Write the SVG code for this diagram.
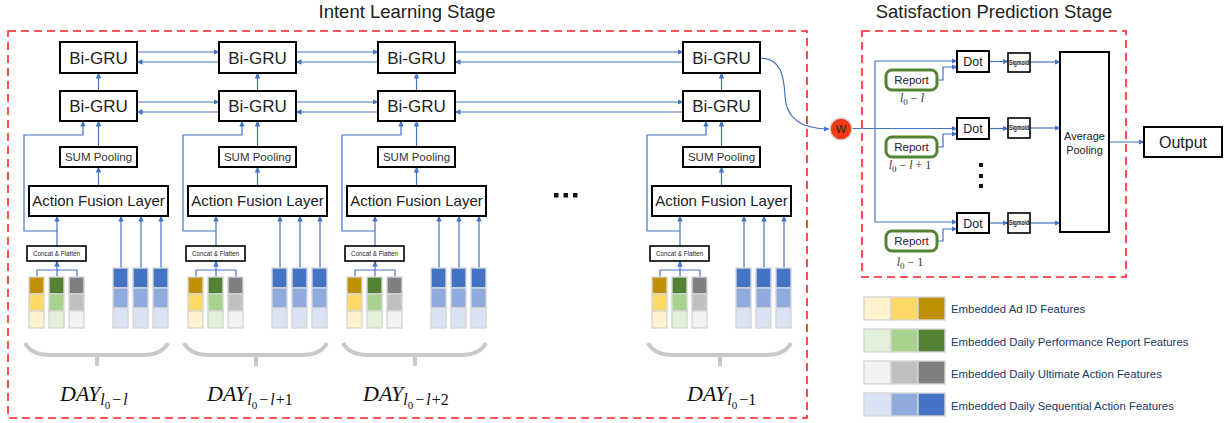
<svg xmlns="http://www.w3.org/2000/svg" xmlns:xlink="http://www.w3.org/1999/xlink" width="1228" height="423" viewBox="0 0 1228 423">
<style>
text{font-family:"Liberation Sans",Arial,sans-serif;fill:#222}
.n rect{fill:#fff;stroke:#000;stroke-width:2}
.n.thin rect{stroke-width:1.6}
.c{fill:none;stroke:#4472C4;stroke-width:1.2}
.ca{fill:none;stroke:#4472C4;stroke-width:1.2;marker-end:url(#ah)}
.mid{text-anchor:middle}
.t17{font-size:17px}
.t15{font-size:15px}
.t11{font-size:11.5px;fill:#333}
.t6{font-size:6.3px}
.sw rect{stroke:#D6D6D6;stroke-width:1.4}
.a1{fill:#BF9000}.a2{fill:#FFD966}.a3{fill:#FFF2CC}
.p1{fill:#548235}.p2{fill:#A9D18E}.p3{fill:#E2F0D9}
.u1{fill:#7F7F7F}.u2{fill:#BFBFBF}.u3{fill:#F2F2F2}
.q1{fill:#4472C4}.q2{fill:#8FAADC}.q3{fill:#DAE3F3}
.brace{fill:none;stroke:#C9C9C9;stroke-width:4}
.day{font-family:"Liberation Serif","Times New Roman",serif;font-style:italic;font-size:22px;fill:#111}
.s{font-size:16px}
.s0{font-size:11px;font-style:normal}
.sm{font-size:16px;font-style:normal}
.rl{font-family:"Liberation Serif","Times New Roman",serif;font-style:italic;font-size:12px;fill:#333}
.r0{font-size:9px;font-style:normal}
.rn{font-style:normal}
.red{fill:none;stroke:#FF2020;stroke-width:1.6;stroke-dasharray:8,5}
.rep rect{fill:#fff;stroke:#548235;stroke-width:3}
.leg{font-size:11.4px;fill:#203864}
.sig{font-size:6.6px;font-weight:bold;fill:#111}
</style>
<defs>
<marker id="ah" markerWidth="6" markerHeight="6" refX="5.5" refY="3" orient="auto" markerUnits="userSpaceOnUse">
<path d="M0,0.3 L6,3 L0,5.7 z" fill="#4472C4"/>
</marker>
</defs>

<rect width="1228" height="423" fill="#fff"/>

<!-- stage frames and titles -->
<g id="intent-stage">
<rect class="red" x="8" y="31" width="799" height="387"/>
<text class="mid" x="407" y="18" font-size="18.5">Intent Learning Stage</text>
</g>
<g id="satisfaction-stage">
<rect class="red" x="862" y="31" width="264" height="246"/>
<text class="mid" x="994" y="18" font-size="18.5">Satisfaction Prediction Stage</text>
</g>

<!-- connectors -->
<g id="connectors">
<g transform="translate(0,0)">
<path class="ca" d="M98.5,91 V73"/><path class="ca" d="M98.5,147 V121"/><path class="ca" d="M98.5,186 V167"/>
<path class="ca" d="M37,277 V270 H77 V277 M57,277 V261"/>
<path class="ca" d="M57,246 V216"/><path class="ca" d="M57,231 H24 V135 H83 V121"/>
<path class="ca" d="M121,268 V216"/><path class="ca" d="M141,268 V216"/><path class="ca" d="M161,268 V216"/>
</g>
<g transform="translate(159,0)">
<path class="ca" d="M98.5,91 V73"/><path class="ca" d="M98.5,147 V121"/><path class="ca" d="M98.5,186 V167"/>
<path class="ca" d="M37,277 V270 H77 V277 M57,277 V261"/>
<path class="ca" d="M57,246 V216"/><path class="ca" d="M57,231 H24 V135 H83 V121"/>
<path class="ca" d="M121,268 V216"/><path class="ca" d="M141,268 V216"/><path class="ca" d="M161,268 V216"/>
</g>
<g transform="translate(318,0)">
<path class="ca" d="M98.5,91 V73"/><path class="ca" d="M98.5,147 V121"/><path class="ca" d="M98.5,186 V167"/>
<path class="ca" d="M37,277 V270 H77 V277 M57,277 V261"/>
<path class="ca" d="M57,246 V216"/><path class="ca" d="M57,231 H24 V135 H83 V121"/>
<path class="ca" d="M121,268 V216"/><path class="ca" d="M141,268 V216"/><path class="ca" d="M161,268 V216"/>
</g>
<g transform="translate(623,0)">
<path class="ca" d="M98.5,91 V73"/><path class="ca" d="M98.5,147 V121"/><path class="ca" d="M98.5,186 V167"/>
<path class="ca" d="M37,277 V270 H77 V277 M57,277 V261"/>
<path class="ca" d="M57,246 V216"/><path class="ca" d="M57,231 H24 V135 H83 V121"/>
<path class="ca" d="M121,268 V216"/><path class="ca" d="M141,268 V216"/><path class="ca" d="M161,268 V216"/>
</g>
<!-- Bi-GRU chains -->
<path class="ca" d="M137,52 H219"/><path class="ca" d="M219,62 H137"/>
<path class="ca" d="M137,102 H219"/><path class="ca" d="M219,112 H137"/>
<path class="ca" d="M296,52 H378"/><path class="ca" d="M378,62 H296"/>
<path class="ca" d="M296,102 H378"/><path class="ca" d="M378,112 H296"/>
<path class="ca" d="M455,52 H683"/><path class="ca" d="M683,62 H455"/>
<path class="ca" d="M455,102 H683"/><path class="ca" d="M683,112 H455"/>
<!-- to W -->
<path class="ca" d="M760,58 C781,58 784,76 785,96 C786,118 800,129 829,129"/>
<!-- satisfaction stage -->
<path class="ca" d="M852,128.5 H957"/>
<path class="ca" d="M875,128.5 V61 H957"/>
<path class="ca" d="M875,128.5 V222 H957"/>
<path class="ca" d="M937,80 H943 V67 H957"/>
<path class="ca" d="M937,147 H943 V134 H957"/>
<path class="ca" d="M937,241 H943 V229 H957"/>
<path class="ca" d="M989,61.5 H1008"/><path class="ca" d="M989,128.5 H1008"/><path class="ca" d="M989,223 H1008"/>
<path class="ca" d="M1030,62 H1060"/><path class="ca" d="M1030,128 H1060"/><path class="ca" d="M1030,223 H1060"/>
<path class="ca" d="M1109,142 H1144"/>
</g>

<!-- Column 1 -->
<g id="day-1">
<g id="c1-bigru-top" class="n"><rect x="60" y="42" width="77" height="31"/><text class="t17 mid" x="98.5" y="63.5">Bi-GRU</text></g>
<g id="c1-bigru-bottom" class="n"><rect x="60" y="91" width="77" height="30"/><text class="t17 mid" x="98.5" y="112">Bi-GRU</text></g>
<g id="c1-sum" class="n"><rect x="60" y="147" width="77" height="20"/><text class="t11 mid" x="98.5" y="161">SUM Pooling</text></g>
<g id="c1-afl" class="n"><rect x="29" y="186" width="139" height="30"/><text class="t15 mid" x="98.5" y="206.4">Action Fusion Layer</text></g>
<g id="c1-concat" class="n thin"><rect x="27" y="246" width="59" height="15"/><text class="t6 mid" x="56.5" y="255.8">Concat &amp; Flatten</text></g>
<g id="c1-features" class="sw">
<rect class="a1" x="29" y="277" width="15" height="17"/><rect class="a2" x="29" y="294" width="15" height="17"/><rect class="a3" x="29" y="311" width="15" height="17"/>
<rect class="p1" x="49" y="277" width="15" height="17"/><rect class="p2" x="49" y="294" width="15" height="17"/><rect class="p3" x="49" y="311" width="15" height="17"/>
<rect class="u1" x="69" y="277" width="15" height="17"/><rect class="u2" x="69" y="294" width="15" height="17"/><rect class="u3" x="69" y="311" width="15" height="17"/>
</g>
<g id="c1-seq" class="sw">
<rect class="q1" x="113" y="268" width="15" height="20"/><rect class="q2" x="113" y="288" width="15" height="20"/><rect class="q3" x="113" y="308" width="15" height="20"/>
<rect class="q1" x="133" y="268" width="15" height="20"/><rect class="q2" x="133" y="288" width="15" height="20"/><rect class="q3" x="133" y="308" width="15" height="20"/>
<rect class="q1" x="153" y="268" width="15" height="20"/><rect class="q2" x="153" y="288" width="15" height="20"/><rect class="q3" x="153" y="308" width="15" height="20"/>
</g>
<path class="brace" d="M25,343 C30,352 38,355 50,355 H143 C155,355 163,352 168,343 M97,355 V366"/>
<text class="day" x="60" y="401">DAY<tspan class="s" dy="4">l</tspan><tspan class="s0" dy="4">0</tspan><tspan class="sm" dy="-4" dx="2">−</tspan><tspan class="s" dx="2">l</tspan></text>
</g>

<!-- Column 2 -->
<g id="day-2" transform="translate(159,0)">
<g id="c2-bigru-top" class="n"><rect x="60" y="42" width="77" height="31"/><text class="t17 mid" x="98.5" y="63.5">Bi-GRU</text></g>
<g id="c2-bigru-bottom" class="n"><rect x="60" y="91" width="77" height="30"/><text class="t17 mid" x="98.5" y="112">Bi-GRU</text></g>
<g id="c2-sum" class="n"><rect x="60" y="147" width="77" height="20"/><text class="t11 mid" x="98.5" y="161">SUM Pooling</text></g>
<g id="c2-afl" class="n"><rect x="29" y="186" width="139" height="30"/><text class="t15 mid" x="98.5" y="206.4">Action Fusion Layer</text></g>
<g id="c2-concat" class="n thin"><rect x="27" y="246" width="59" height="15"/><text class="t6 mid" x="56.5" y="255.8">Concat &amp; Flatten</text></g>
<g id="c2-features" class="sw">
<rect class="a1" x="29" y="277" width="15" height="17"/><rect class="a2" x="29" y="294" width="15" height="17"/><rect class="a3" x="29" y="311" width="15" height="17"/>
<rect class="p1" x="49" y="277" width="15" height="17"/><rect class="p2" x="49" y="294" width="15" height="17"/><rect class="p3" x="49" y="311" width="15" height="17"/>
<rect class="u1" x="69" y="277" width="15" height="17"/><rect class="u2" x="69" y="294" width="15" height="17"/><rect class="u3" x="69" y="311" width="15" height="17"/>
</g>
<g id="c2-seq" class="sw">
<rect class="q1" x="113" y="268" width="15" height="20"/><rect class="q2" x="113" y="288" width="15" height="20"/><rect class="q3" x="113" y="308" width="15" height="20"/>
<rect class="q1" x="133" y="268" width="15" height="20"/><rect class="q2" x="133" y="288" width="15" height="20"/><rect class="q3" x="133" y="308" width="15" height="20"/>
<rect class="q1" x="153" y="268" width="15" height="20"/><rect class="q2" x="153" y="288" width="15" height="20"/><rect class="q3" x="153" y="308" width="15" height="20"/>
</g>
<path class="brace" d="M25,343 C30,352 38,355 50,355 H143 C155,355 163,352 168,343 M97,355 V366"/>
<text class="day" x="48" y="401">DAY<tspan class="s" dy="4">l</tspan><tspan class="s0" dy="4">0</tspan><tspan class="sm" dy="-4" dx="2">−</tspan><tspan class="s" dx="2">l</tspan><tspan class="sm" dx="1">+1</tspan></text>
</g>

<!-- Column 3 -->
<g id="day-3" transform="translate(318,0)">
<g id="c3-bigru-top" class="n"><rect x="60" y="42" width="77" height="31"/><text class="t17 mid" x="98.5" y="63.5">Bi-GRU</text></g>
<g id="c3-bigru-bottom" class="n"><rect x="60" y="91" width="77" height="30"/><text class="t17 mid" x="98.5" y="112">Bi-GRU</text></g>
<g id="c3-sum" class="n"><rect x="60" y="147" width="77" height="20"/><text class="t11 mid" x="98.5" y="161">SUM Pooling</text></g>
<g id="c3-afl" class="n"><rect x="29" y="186" width="139" height="30"/><text class="t15 mid" x="98.5" y="206.4">Action Fusion Layer</text></g>
<g id="c3-concat" class="n thin"><rect x="27" y="246" width="59" height="15"/><text class="t6 mid" x="56.5" y="255.8">Concat &amp; Flatten</text></g>
<g id="c3-features" class="sw">
<rect class="a1" x="29" y="277" width="15" height="17"/><rect class="a2" x="29" y="294" width="15" height="17"/><rect class="a3" x="29" y="311" width="15" height="17"/>
<rect class="p1" x="49" y="277" width="15" height="17"/><rect class="p2" x="49" y="294" width="15" height="17"/><rect class="p3" x="49" y="311" width="15" height="17"/>
<rect class="u1" x="69" y="277" width="15" height="17"/><rect class="u2" x="69" y="294" width="15" height="17"/><rect class="u3" x="69" y="311" width="15" height="17"/>
</g>
<g id="c3-seq" class="sw">
<rect class="q1" x="113" y="268" width="15" height="20"/><rect class="q2" x="113" y="288" width="15" height="20"/><rect class="q3" x="113" y="308" width="15" height="20"/>
<rect class="q1" x="133" y="268" width="15" height="20"/><rect class="q2" x="133" y="288" width="15" height="20"/><rect class="q3" x="133" y="308" width="15" height="20"/>
<rect class="q1" x="153" y="268" width="15" height="20"/><rect class="q2" x="153" y="288" width="15" height="20"/><rect class="q3" x="153" y="308" width="15" height="20"/>
</g>
<path class="brace" d="M25,343 C30,352 38,355 50,355 H143 C155,355 163,352 168,343 M97,355 V366"/>
<text class="day" x="45" y="401">DAY<tspan class="s" dy="4">l</tspan><tspan class="s0" dy="4">0</tspan><tspan class="sm" dy="-4" dx="2">−</tspan><tspan class="s" dx="2">l</tspan><tspan class="sm" dx="1">+2</tspan></text>
</g>

<!-- Column 4 -->
<g id="day-4" transform="translate(623,0)">
<g id="c4-bigru-top" class="n"><rect x="60" y="42" width="77" height="31"/><text class="t17 mid" x="98.5" y="63.5">Bi-GRU</text></g>
<g id="c4-bigru-bottom" class="n"><rect x="60" y="91" width="77" height="30"/><text class="t17 mid" x="98.5" y="112">Bi-GRU</text></g>
<g id="c4-sum" class="n"><rect x="60" y="147" width="77" height="20"/><text class="t11 mid" x="98.5" y="161">SUM Pooling</text></g>
<g id="c4-afl" class="n"><rect x="29" y="186" width="139" height="30"/><text class="t15 mid" x="98.5" y="206.4">Action Fusion Layer</text></g>
<g id="c4-concat" class="n thin"><rect x="27" y="246" width="59" height="15"/><text class="t6 mid" x="56.5" y="255.8">Concat &amp; Flatten</text></g>
<g id="c4-features" class="sw">
<rect class="a1" x="29" y="277" width="15" height="17"/><rect class="a2" x="29" y="294" width="15" height="17"/><rect class="a3" x="29" y="311" width="15" height="17"/>
<rect class="p1" x="49" y="277" width="15" height="17"/><rect class="p2" x="49" y="294" width="15" height="17"/><rect class="p3" x="49" y="311" width="15" height="17"/>
<rect class="u1" x="69" y="277" width="15" height="17"/><rect class="u2" x="69" y="294" width="15" height="17"/><rect class="u3" x="69" y="311" width="15" height="17"/>
</g>
<g id="c4-seq" class="sw">
<rect class="q1" x="113" y="268" width="15" height="20"/><rect class="q2" x="113" y="288" width="15" height="20"/><rect class="q3" x="113" y="308" width="15" height="20"/>
<rect class="q1" x="133" y="268" width="15" height="20"/><rect class="q2" x="133" y="288" width="15" height="20"/><rect class="q3" x="133" y="308" width="15" height="20"/>
<rect class="q1" x="153" y="268" width="15" height="20"/><rect class="q2" x="153" y="288" width="15" height="20"/><rect class="q3" x="153" y="308" width="15" height="20"/>
</g>
<path class="brace" d="M25,343 C30,352 38,355 50,355 H143 C155,355 163,352 168,343 M97,355 V366"/>
<text class="day" x="64" y="401">DAY<tspan class="s" dy="4">l</tspan><tspan class="s0" dy="4">0</tspan><tspan class="sm" dy="-4" dx="2">−1</tspan></text>
</g>

<!-- ellipsis -->
<g id="ellipsis" fill="#111">
<rect x="554" y="193" width="4.5" height="4.5"/><rect x="563.5" y="193" width="4.5" height="4.5"/><rect x="573" y="193" width="4.5" height="4.5"/>
</g>

<!-- W -->
<g id="w-node">
<circle cx="841" cy="129" r="11" fill="#EE3B14" stroke="#D8D8D8" stroke-width="1.5"/>
<text class="mid" x="841" y="133" font-size="11" fill="#2a1000">W</text>
</g>

<!-- Satisfaction prediction nodes -->
<g id="report-1" class="rep"><rect x="886" y="70" width="51" height="20" rx="6"/><text class="mid" x="911.5" y="84" font-size="11.5">Report</text></g>
<g id="report-2" class="rep"><rect x="886" y="137" width="51" height="20" rx="6"/><text class="mid" x="911.5" y="151" font-size="11.5">Report</text></g>
<g id="report-3" class="rep"><rect x="886" y="231" width="51" height="20" rx="6"/><text class="mid" x="911.5" y="245" font-size="11.5">Report</text></g>
<text class="rl mid" x="912" y="102">l<tspan class="r0" dy="3">0</tspan><tspan class="rn" dy="-3"> − </tspan>l</text>
<text class="rl mid" x="910" y="169">l<tspan class="r0" dy="3">0</tspan><tspan class="rn" dy="-3"> − </tspan>l<tspan class="rn"> + 1</tspan></text>
<text class="rl mid" x="910" y="266">l<tspan class="r0" dy="3">0</tspan><tspan class="rn" dy="-3"> − 1</tspan></text>

<g id="dot-1" class="n"><rect x="957" y="51" width="32" height="21"/><text class="mid" x="973" y="66" font-size="12.5">Dot</text></g>
<g id="dot-2" class="n"><rect x="957" y="118" width="32" height="21"/><text class="mid" x="973" y="133" font-size="12.5">Dot</text></g>
<g id="dot-3" class="n"><rect x="957" y="213" width="32" height="20"/><text class="mid" x="973" y="227.5" font-size="12.5">Dot</text></g>
<g id="vdots" fill="#111">
<rect x="979" y="163" width="4" height="4"/><rect x="979" y="174" width="4" height="4"/><rect x="979" y="184" width="4" height="4"/>
</g>
<g id="sigmoid-1" class="n thin"><rect x="1008" y="53" width="22" height="19"/><text class="mid sig" x="1019" y="64.8" textLength="20" lengthAdjust="spacingAndGlyphs">Sigmoid</text></g>
<g id="sigmoid-2" class="n thin"><rect x="1008" y="118" width="22" height="20"/><text class="mid sig" x="1019" y="130.3" textLength="20" lengthAdjust="spacingAndGlyphs">Sigmoid</text></g>
<g id="sigmoid-3" class="n thin"><rect x="1008" y="213" width="22" height="20"/><text class="mid sig" x="1019" y="225.3" textLength="20" lengthAdjust="spacingAndGlyphs">Sigmoid</text></g>
<g id="avg-pool" class="n"><rect x="1060" y="52" width="49" height="180"/><text class="mid" x="1084.5" y="140" font-size="11" fill="#404040">Average</text><text class="mid" x="1084.5" y="154" font-size="11" fill="#404040">Pooling</text></g>
<g id="output" class="n"><rect x="1144" y="127" width="78" height="30"/><text class="mid" x="1183" y="147.5" font-size="16">Output</text></g>

<!-- legend -->
<g id="legend">
<g class="sw">
<rect class="a3" x="864" y="297" width="27" height="23"/><rect class="a2" x="891" y="297" width="27" height="23"/><rect class="a1" x="918" y="297" width="27" height="23"/>
<rect class="p3" x="864" y="329" width="27" height="23"/><rect class="p2" x="891" y="329" width="27" height="23"/><rect class="p1" x="918" y="329" width="27" height="23"/>
<rect class="u3" x="864" y="361" width="27" height="23"/><rect class="u2" x="891" y="361" width="27" height="23"/><rect class="u1" x="918" y="361" width="27" height="23"/>
<rect class="q3" x="864" y="393" width="27" height="23"/><rect class="q2" x="891" y="393" width="27" height="23"/><rect class="q1" x="918" y="393" width="27" height="23"/>
</g>
<text class="leg" x="951" y="313">Embedded Ad ID Features</text>
<text class="leg" x="951" y="346">Embedded Daily Performance Report Features</text>
<text class="leg" x="951" y="378">Embedded Daily Ultimate Action Features</text>
<text class="leg" x="951" y="410">Embedded Daily Sequential Action Features</text>
</g>
</svg>
